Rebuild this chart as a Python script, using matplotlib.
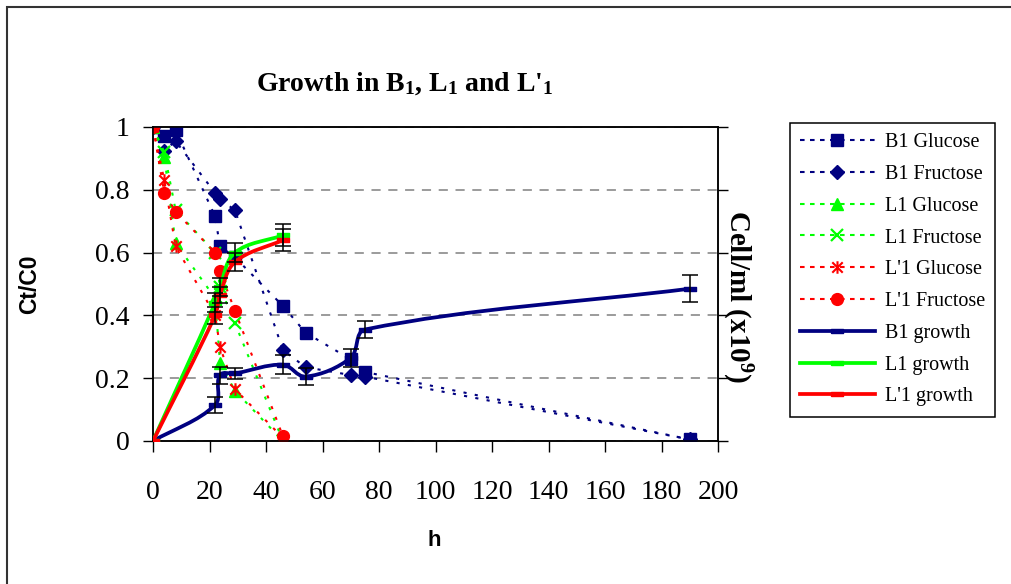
import matplotlib
matplotlib.use('Agg')
import matplotlib.pyplot as plt
from matplotlib.path import Path
from matplotlib.patches import PathPatch, Rectangle
from matplotlib.lines import Line2D
import numpy as np

plt.rcParams['font.family'] = 'Liberation Serif'
plt.rcParams['mathtext.fontset'] = 'custom'
plt.rcParams['mathtext.rm'] = 'Liberation Serif:bold'
plt.rcParams['mathtext.it'] = 'Liberation Serif:bold'
plt.rcParams['mathtext.bf'] = 'Liberation Serif:bold'

# --- datos ---
t_b1 = [0, 4, 8, 22, 23.7, 29, 46, 54, 70, 75, 190]
b1_glu = [1, 0.97, 0.99, 0.715, 0.62, 0.585, 0.43, 0.345, 0.26, 0.22, 0.005]
b1_fru = [1, 0.925, 0.955, 0.79, 0.77, 0.735, 0.29, 0.235, 0.21, 0.205, 0.005]

t_l = [0, 4, 8, 22, 23.7, 29, 46]
l1_glu = [1, 0.905, 0.63, 0.455, 0.25, 0.16, 0.0]
l1_fru = [1, 0.92, 0.735, 0.60, 0.49, 0.375, 0.0]
lp1_glu = [1, 0.83, 0.62, 0.40, 0.30, 0.165, 0.01]
lp1_fru = [1, 0.79, 0.73, 0.60, 0.54, 0.415, 0.015]

t_gb1 = [0, 22, 23.7, 29, 46, 54, 70, 75, 190]
b1_growth = [0, 0.115, 0.21, 0.215, 0.243, 0.205, 0.265, 0.355, 0.485]
b1_err = [0, 0.025, 0.027, 0.017, 0.03, 0.028, 0.028, 0.027, 0.043]

t_gl = [0, 22, 23.7, 29, 46]
l1_growth = [0, 0.44, 0.49, 0.60, 0.655]
l1_err = [0, 0.03, 0.028, 0.03, 0.035]
lp1_growth = [0, 0.40, 0.465, 0.57, 0.64]
lp1_err = [0, 0.028, 0.025, 0.03, 0.035]

xticks = [0, 20, 40, 60, 80, 100, 120, 140, 160, 180, 200]
yticks = [0, 0.2, 0.4, 0.6, 0.8, 1]
ytick_labels = ['0', '0.2', '0.4', '0.6', '0.8', '1']

NAVY, GREEN, RED = '#000080', '#00FF00', '#FF0000'
DOT = (0, (1.5, 4))
LEG_DOT = (0, (2.2, 2.6))

# marcador asterisco estilo Excel (x + barra vertical)
star = Path([(-1, -1), (1, 1), (-1, 1), (1, -1), (0, -1.2), (0, 1.2)],
            [Path.MOVETO, Path.LINETO, Path.MOVETO, Path.LINETO, Path.MOVETO, Path.LINETO])
dash = Path([(-1, -0.35), (1, -0.35), (1, 0.35), (-1, 0.35), (-1, -0.35)])


def smooth_path(x, y, sx=565 / 200, sy=314):
    # curva suavizada tipo Excel (Bezier por tramos)
    p = np.column_stack([np.asarray(x, float) * sx, np.asarray(y, float) * sy])
    n = len(p)
    tang = np.zeros_like(p)
    for i in range(n):
        d = p[min(i + 1, n - 1)] - p[max(i - 1, 0)]
        tang[i] = d / np.hypot(*d)
    verts = [p[0]]; codes = [Path.MOVETO]
    for i in range(n - 1):
        L = np.hypot(*(p[i + 1] - p[i])) / 3
        verts += [p[i] + tang[i] * L, p[i + 1] - tang[i + 1] * L, p[i + 1]]
        codes += [Path.CURVE4] * 3
    return Path(np.array(verts) / [sx, sy], codes)


fig = plt.figure(figsize=(10.11, 5.84), dpi=100)
ax = fig.add_axes([153 / 1011, 1 - 441 / 584, 565 / 1011, 314 / 584])
ax2 = ax.twinx()

# azucares
ms = 8.5
ax.plot(t_b1, b1_glu, ls=DOT, lw=1.5, color=NAVY, marker='s', ms=ms, zorder=3)
ax.plot(t_b1, b1_fru, ls=DOT, lw=1.5, color=NAVY, marker='D', ms=7.5, zorder=3)
ax.plot(t_l, l1_glu, ls=DOT, lw=1.5, color=GREEN, marker='^', ms=9, zorder=3)
ax.plot(t_l, l1_fru, ls=DOT, lw=1.5, color=GREEN, marker='x', ms=9, mew=1.6, zorder=3)
ax.plot(t_l, lp1_glu, ls=DOT, lw=1.5, color=RED, marker=star, ms=9, mew=1.5, mfc='none', zorder=3)
ax.plot(t_l, lp1_fru, ls=DOT, lw=1.5, color=RED, marker='o', ms=ms, zorder=3)

# crecimiento (eje derecho)
for t, g, e, c in [(t_gb1, b1_growth, b1_err, NAVY),
                   (t_gl, l1_growth, l1_err, GREEN),
                   (t_gl, lp1_growth, lp1_err, RED)]:
    ax2.add_patch(PathPatch(smooth_path(t, g), fill=False, edgecolor=c, lw=2.7,
                            capstyle='butt', joinstyle='round', zorder=4))
    ax2.plot(t, g, ls='none', marker=dash, ms=9, color=c, zorder=4)
    tt = [a for a, b in zip(t, e) if b > 0]
    gg = [a for a, b in zip(g, e) if b > 0]
    ee = [b for b in e if b > 0]
    ax2.errorbar(tt, gg, yerr=ee, fmt='none', ecolor='black', elinewidth=1.1,
                 capsize=5.5, capthick=1.1, zorder=5)

for a in (ax, ax2):
    a.set_xlim(0, 200)
    a.set_ylim(0, 1)
ax.set_xticks(xticks)
ax.set_yticks(yticks)
ax.set_yticklabels(ytick_labels)
ax.tick_params(axis='x', direction='out', length=8, width=1, labelsize=20, pad=20)
ax.tick_params(axis='y', direction='out', length=7, width=1, labelsize=20, pad=10)
ax2.set_yticks(yticks)
ax2.set_yticklabels([])
ax2.tick_params(axis='y', direction='out', length=7, width=1)
ax.grid(axis='y', color='#808080', ls=(0, (6, 5)), lw=1.1)
for s in ax.spines.values():
    s.set_linewidth(1.1)
for s in ax2.spines.values():
    s.set_linewidth(1.1)
ax.set_zorder(0)
ax2.set_zorder(0)

# textos
fig.text(405 / 1011, 1 - 84 / 584, "Growth in B$_1$, L$_1$ and L'$_1$", ha='center', va='center',
         fontsize=20, fontweight='bold')
fig.text(30 / 1011, 1 - 284 / 584, 'Ct/C0', rotation=90, ha='center', va='center',
         fontsize=16.5, fontweight='bold', family='Liberation Sans')
fig.text(434 / 1011, 1 - 541 / 584, 'h', ha='center', va='center',
         fontsize=16, fontweight='bold', family='Liberation Sans')
fig.text(737 / 1011, 1 - 296 / 584, 'Cell/ml (x10$^9$)', rotation=270, ha='center', va='center',
         fontsize=21, fontweight='bold')

# leyenda
handles = [
    Line2D([0], [0], ls=LEG_DOT, lw=1.5, color=NAVY, marker='s', ms=ms, label='B1 Glucose'),
    Line2D([0], [0], ls=LEG_DOT, lw=1.5, color=NAVY, marker='D', ms=7.5, label='B1 Fructose'),
    Line2D([0], [0], ls=LEG_DOT, lw=1.5, color=GREEN, marker='^', ms=9, label='L1 Glucose'),
    Line2D([0], [0], ls=LEG_DOT, lw=1.5, color=GREEN, marker='x', ms=9, mew=1.6, label='L1 Fructose'),
    Line2D([0], [0], ls=LEG_DOT, lw=1.5, color=RED, marker=star, ms=9, mew=1.5, mfc='none', label="L'1 Glucose"),
    Line2D([0], [0], ls=LEG_DOT, lw=1.5, color=RED, marker='o', ms=ms, label="L'1 Fructose"),
    Line2D([0], [0], lw=2.7, color=NAVY, marker=dash, ms=9, label='B1 growth'),
    Line2D([0], [0], lw=2.7, color=GREEN, marker=dash, ms=9, label='L1 growth'),
    Line2D([0], [0], lw=2.7, color=RED, marker=dash, ms=9, label="L'1 growth"),
]
leg = fig.legend(handles=handles, loc='upper left', bbox_to_anchor=(790 / 1011, 1 - 123 / 584),
                 bbox_transform=fig.transFigure, fontsize=14.5, frameon=True, fancybox=False,
                 edgecolor='black', framealpha=1, handlelength=3.7, handletextpad=0.5,
                 labelspacing=0.63, borderpad=0.5, borderaxespad=0)
leg.get_frame().set_linewidth(1.1)

# marco exterior
fig.add_artist(Rectangle((7 / 1011, -1), 2, 2 - 7 / 584, transform=fig.transFigure,
                         fill=False, edgecolor='#333333', lw=1.5))

fig.savefig('out.png', dpi=100)
